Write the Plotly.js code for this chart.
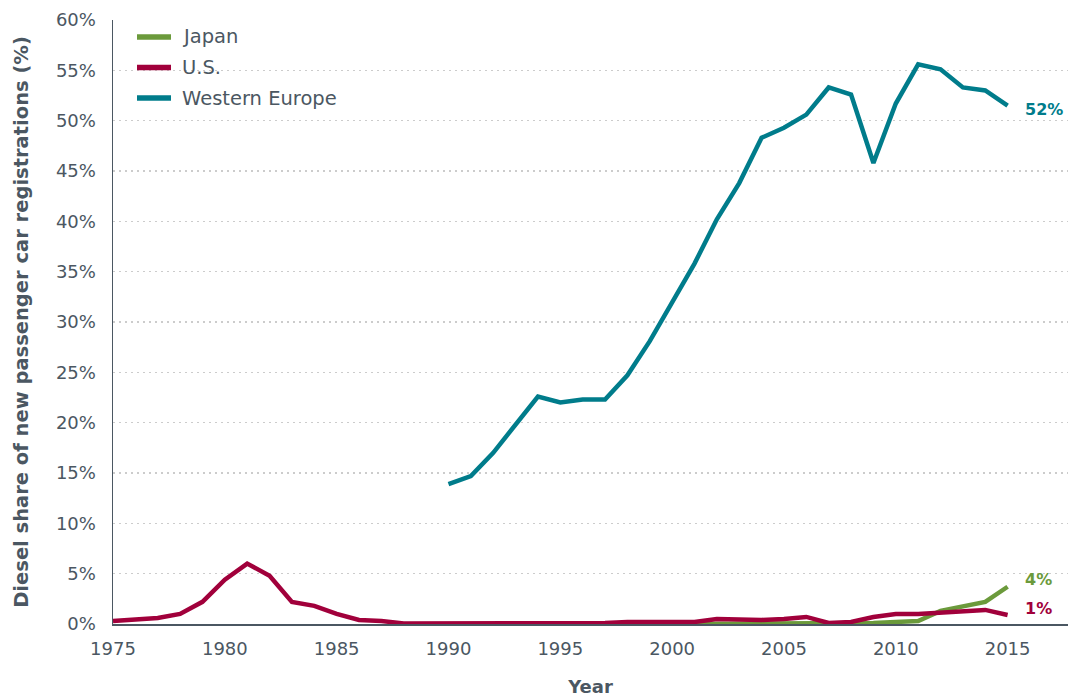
<!DOCTYPE html>
<html>
<head>
<meta charset="utf-8">
<script src="https://cdn.plot.ly/plotly-3.0.1.min.js"></script>
<style>html,body{margin:0;padding:0;background:#fff;}#chart{width:1070px;height:697px;}</style>
</head>
<body>
<div id="chart"></div>
<script>
// ---- data (diesel share of new passenger car registrations, %) ----
const usYears = [1975,1976,1977,1978,1979,1980,1981,1982,1983,1984,1985,1986,1987,1988,1989,1990,1991,1992,1993,1994,1995,1996,1997,1998,1999,2000,2001,2002,2003,2004,2005,2006,2007,2008,2009,2010,2011,2012,2013,2014,2015];
const usValues = [0.3,0.4,0.6,1.0,2.2,4.4,6.0,4.8,2.2,1.8,1.0,0.4,0.3,0.05,0.05,0.05,0.1,0.1,0.05,0.05,0.1,0.1,0.1,0.2,0.2,0.2,0.2,0.5,0.4,0.4,0.5,0.7,0.1,0.2,0.7,1.0,1.0,1.1,1.2,1.4,0.9];
const japanYears = [2001,2002,2003,2004,2005,2006,2007,2008,2009,2010,2011,2012,2013,2014,2015];
const japanValues = [0,0,0,0,0,0,0,0.05,0.1,0.2,0.3,1.3,1.8,2.2,3.7];
const weYears = [1990,1991,1992,1993,1994,1995,1996,1997,1998,1999,2000,2001,2002,2003,2004,2005,2006,2007,2008,2009,2010,2011,2012,2013,2014,2015];
const weValues = [13.9,14.7,17.0,19.8,22.6,22.0,22.3,22.3,24.7,28.1,31.9,35.8,40.2,43.8,48.3,49.3,50.6,53.3,52.6,45.8,51.7,55.6,55.1,53.3,53.0,51.5];
const seriesNames = ['Japan','U.S.','Western Europe'];
const endLabels = ['4%','1%','52%'];
const yTickValues = [0,5,10,15,20,25,30,35,40,45,50,55,60];
const yTickLabels = ['0%','5%','10%','15%','20%','25%','30%','35%','40%','45%','50%','55%','60%'];
const xTickValues = [1975,1980,1985,1990,1995,2000,2005,2010,2015];

// ---- style ----
const colors = ['#6b9a3b','#a1003b','#007c8b'];
const textColor = '#4b5762';
const fontFam = '"DejaVu Sans", sans-serif';
const fs = 18;
const fsBig = 19.5;

const xs = [japanYears, usYears, weYears];
const ys = [japanValues, usValues, weValues];
const traces = seriesNames.map((n,i)=>({
  type:'scatter', mode:'lines', name:n, x:xs[i], y:ys[i],
  line:{color:colors[i], width:4.5}, cliponaxis:false, showlegend:false
}));

const labelShift = [7, 6, -4];
const annotations = endLabels.map((t,i)=>({
  x: xs[i][xs[i].length-1], y: ys[i][ys[i].length-1], xref:'x', yref:'y',
  text:'<b>'+t+'</b>', showarrow:false, xanchor:'left', yanchor:'middle',
  xshift:15, yshift:labelShift[i], font:{family:fontFam, size:16, color:colors[i]}
}));

// custom legend (paper coords)
const legTop = 37, legStep = 30.5, plotTop = 20, plotH = 604, plotL = 113, plotW = 955;
const shapes = [];
seriesNames.forEach((n,i)=>{
  const yp = 1 - (legTop + i*legStep - plotTop)/plotH;
  shapes.push({type:'line', xref:'paper', yref:'paper',
    x0:(137-plotL)/plotW, x1:(171-plotL)/plotW, y0:yp, y1:yp,
    line:{color:colors[i], width:5.5}, layer:'above'});
  annotations.push({xref:'paper', yref:'paper', x:(180-plotL)/plotW, y:yp,
    xanchor:'left', yanchor:'middle', showarrow:false, text:n,
    font:{family:fontFam, size:fsBig, color:textColor}});
});

const layout = {
  width:1070, height:697,
  margin:{l:113, r:2, t:20, b:73},
  paper_bgcolor:'#fff', plot_bgcolor:'#fff',
  font:{family:fontFam, size:fs, color:textColor},
  showlegend:false,
  xaxis:{
    range:[1975, 2017.7], tickvals:xTickValues, ticks:'', showgrid:false,
    showline:true, linecolor:'#4b5762', linewidth:1.5, zeroline:false,
    ticklabelstandoff:8,
    tickfont:{family:fontFam, size:fs, color:textColor},
    title:{text:'<b>Year</b>', font:{family:fontFam, size:fs, color:textColor}, standoff:26}
  },
  yaxis:{
    range:[0,60], tickvals:yTickValues, ticktext:yTickLabels, ticks:'',
    showgrid:true, gridcolor:'#cccccc', griddash:'2px,4px', gridwidth:1.5,
    showline:true, linecolor:'#4b5762', linewidth:1.5, zeroline:false,
    ticklabelstandoff:12,
    tickfont:{family:fontFam, size:fs, color:textColor},
    title:{text:'<b>Diesel share of new passenger car registrations (%)</b>', font:{family:fontFam, size:fsBig, color:textColor}, standoff:22}
  },
  shapes: shapes,
  annotations: annotations
};

Plotly.newPlot('chart', traces, layout, {displayModeBar:false, staticPlot:true});
</script>
</body>
</html>
